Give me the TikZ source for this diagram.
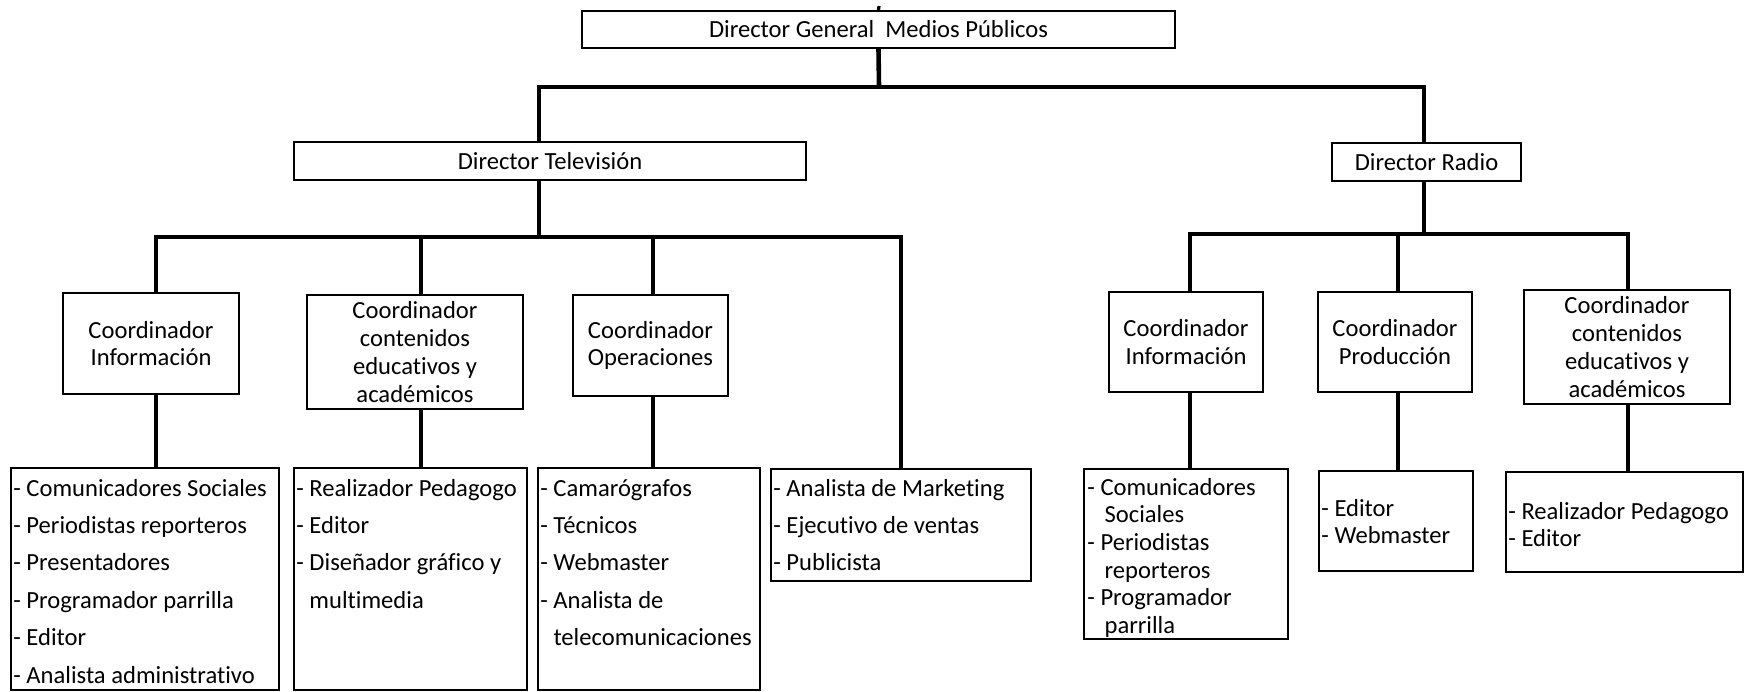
\documentclass[tikz,border=0pt]{standalone}
\usepackage{fontspec}
\setmainfont{Carlito}[Ligatures=NoCommon]

% a column of entries set with a fixed baseline distance; baseline = first entry
\newcommand\entries[2]{\vtop{\baselineskip=#1\lineskiplimit=-100pt\relax #2}}
\newcommand\ent[1]{\hbox{#1}}
\newcommand\hang{\phantom{- }}
% framed box given by its corners (x1,y1) (x2,y2), text centred inside
\newcommand\frm[6]{%
  \node[box, minimum width={(#4-#2)*0.5pt}, minimum height={(#5-#3)*0.5pt}]
    (#1) at ({(#2+#4)/2},{(#3+#5)/2}) {#6};}

\begin{document}
\begin{tikzpicture}[x=0.5pt,y=-0.5pt,
  box/.style={draw, line width=1pt, fill=white, inner sep=0pt, align=center,
              font=\fontsize{12.3pt}{13.85pt}\selectfont},
  conn/.style={line width=2.3pt, line join=miter},
  txt/.style={inner sep=0pt, anchor=base west, font=\fontsize{12.3pt}{13.85pt}\selectfont}]

\useasboundingbox (0,0) rectangle (1744,691);

% ---- top level ----
\frm{dg}{582}{11}{1175}{48}{Director General\ \ Medios Públicos}
\frm{dtv}{294}{142}{806}{180}{Director Televisión}
\frm{drad}{1332}{143}{1521}{181}{Director Radio}

% ---- television coordinators ----
\frm{ci}{63}{293}{239}{394}{Coordinador\\Información}
\frm{cc}{307}{295}{523}{409}{Coordinador\\contenidos\\educativos y\\académicos}
\frm{co}{573}{295}{728}{396}{Coordinador\\Operaciones}

% ---- television staff lists ----
\frm{l1}{11}{468}{279}{690}{}
\frm{l2}{294}{468}{527}{690}{}
\frm{l3}{538}{468}{760}{690}{}
\frm{l4}{771}{469}{1031}{581}{}

% ---- radio coordinators ----
\frm{rci}{1109}{292}{1263}{392}{Coordinador\\Información}
\frm{rcp}{1318}{292}{1472}{392}{Coordinador\\Producción}
\frm{rcc}{1524}{290}{1730}{404}{Coordinador\\contenidos\\educativos y\\académicos}

% ---- radio staff lists ----
\frm{r1}{1084}{469}{1288}{639}{}
\frm{r2}{1319}{471}{1473}{571}{}
\frm{r3}{1506}{472}{1743}{572}{}

% ---- list texts ----
\node[txt] (l1t) at (13,496) {\entries{18.7pt}{%
  \ent{- Comunicadores Sociales}\ent{- Periodistas reporteros}\ent{- Presentadores}%
  \ent{- Programador parrilla}\ent{- Editor}\ent{- Analista administrativo}}};
\node[txt] (l2t) at (296,496) {\entries{18.7pt}{%
  \ent{- Realizador Pedagogo}\ent{- Editor}\ent{- Diseñador gráfico y}\ent{\hang multimedia}}};
\node[txt] (l3t) at (540,496) {\entries{18.7pt}{%
  \ent{- Camarógrafos}\ent{- Técnicos}\ent{- Webmaster}\ent{- Analista de}%
  \ent{\hang telecomunicaciones}}};
\node[txt] (l4t) at (773,496) {\entries{18.7pt}{%
  \ent{- Analista de Marketing}\ent{- Ejecutivo de ventas}\ent{- Publicista}}};

\node[txt] (r1t) at (1087,495) {\entries{13.85pt}{%
  \ent{- Comunicadores}\ent{\hang\,Sociales}\ent{- Periodistas}\ent{\hang\,reporteros}%
  \ent{- Programador}\ent{\hang\,parrilla}}};
\node[txt] (r2t) at (1321,516) {\entries{13.85pt}{\ent{- Editor}\ent{- Webmaster}}};
\node[txt] (r3t) at (1508,519) {\entries{13.85pt}{\ent{- Realizador Pedagogo}\ent{- Editor}}};

% ---- junction points ----
\coordinate (stub) at (879,6);
\coordinate (j0)   at (879,87);
\coordinate (jtv)  at (539,87);
\coordinate (jrad) at (1424,87);

\coordinate (ttr) at (539,237);
\coordinate (t1)  at (156,237);
\coordinate (t2)  at (421,237);
\coordinate (t3)  at (653,237);
\coordinate (t4)  at (901,237);

\coordinate (rtr) at (1424,234);
\coordinate (s1)  at (1190,234);
\coordinate (s2)  at (1398,234);
\coordinate (s3)  at (1628,234);

% ---- connectors: top level ----
\draw[line width=1.6pt] (stub) -- (dg.north);
\draw[conn] (dg.south) -- (j0);
\draw[conn] (jtv |- dtv.north) -- (jtv) -- (jrad) -- (jrad |- drad.north);

% ---- connectors: television ----
\draw[conn] (ttr |- dtv.south) -- (ttr);
\draw[conn] (t1 |- ci.north) -- (t1) -- (t4) -- (t4 |- l4.north);
\draw[conn] (t2) -- (t2 |- cc.north);
\draw[conn] (t3) -- (t3 |- co.north);
\draw[conn] (t1 |- ci.south) -- (t1 |- l1.north);
\draw[conn] (t2 |- cc.south) -- (t2 |- l2.north);
\draw[conn] (t3 |- co.south) -- (t3 |- l3.north);

% ---- connectors: radio ----
\draw[conn] (rtr |- drad.south) -- (rtr);
\draw[conn] (s1 |- rci.north) -- (s1) -- (s3) -- (s3 |- rcc.north);
\draw[conn] (s2) -- (s2 |- rcp.north);
\draw[conn] (s1 |- rci.south) -- (s1 |- r1.north);
\draw[conn] (s2 |- rcp.south) -- (s2 |- r2.north);
\draw[conn] (s3 |- rcc.south) -- (s3 |- r3.north);
\end{tikzpicture}
\end{document}
